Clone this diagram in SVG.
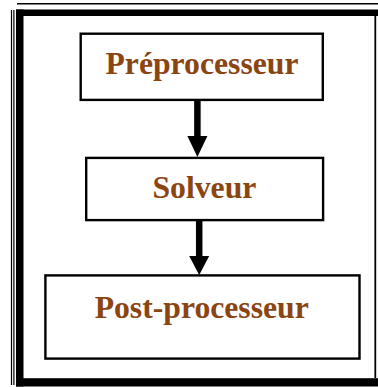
<svg xmlns="http://www.w3.org/2000/svg" width="378" height="387" viewBox="0 0 378 387">
<defs>
<style>
.box{fill:#fff;stroke:#000;stroke-width:2.4}
.lbl{font-family:"Liberation Serif","Times New Roman",serif;font-weight:bold;font-size:31.7px;fill:#8B4513;text-anchor:middle}
.shaft{stroke:#000;stroke-width:6.5;fill:none}
.head{fill:#000}
</style>
</defs>
<rect x="0" y="0" width="378" height="387" fill="#fff"/>
<g id="frame">
<line x1="17" y1="3.7" x2="378" y2="3.7" stroke="#000" stroke-width="1.5"/>
<line x1="11.5" y1="10" x2="11.5" y2="385" stroke="#000" stroke-width="1.2"/>
<line x1="13.9" y1="10" x2="13.9" y2="385" stroke="#000" stroke-width="1.2"/>
<line x1="375.3" y1="16" x2="375.3" y2="378" stroke="#000" stroke-width="1.8"/>
<rect x="16" y="9.5" width="362" height="6.5" fill="#000"/>
<rect x="16" y="9.5" width="7.5" height="377" fill="#000"/>
<rect x="16" y="378.2" width="362" height="8.3" fill="#000"/>
</g>
<g id="connectors">
<line class="shaft" x1="197.4" y1="101" x2="197.4" y2="137"/>
<polygon class="head" points="187.4,136 207.4,136 197.4,157"/>
<line class="shaft" x1="199.2" y1="221" x2="199.2" y2="257"/>
<polygon class="head" points="189.2,256 209.2,256 199.2,275"/>
</g>
<g id="preprocesseur">
<rect class="box" x="80.7" y="33.7" width="242.1" height="66.2"/>
<text class="lbl" x="202" y="74">Préprocesseur</text>
</g>
<g id="solveur">
<rect class="box" x="86.2" y="157.9" width="236.9" height="62.2"/>
<text class="lbl" x="204.4" y="198.3">Solveur</text>
</g>
<g id="postprocesseur">
<rect class="box" x="45.4" y="275.4" width="314.1" height="83.2"/>
<text class="lbl" x="201.7" y="318.3">Post-processeur</text>
</g>
</svg>
